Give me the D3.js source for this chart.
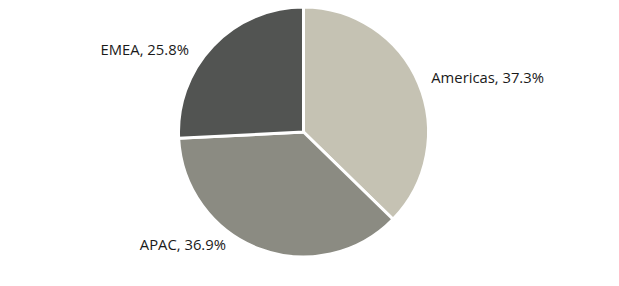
<!DOCTYPE html>
<html>
  <head>
    <meta charset="utf-8">
    <script src="https://d3js.org/d3.v7.min.js"></script>
    <style>
      body { margin: 0px; background: #fff; }
      .label {
        fill: #1a1a1a;
        font-size: 14.8px;
        font-family: 'Open Sans', sans-serif;
      }
    </style>
  </head>
  <body>
    <svg width="619" height="286"></svg>
    <script>
      const regions = ['Americas', 'APAC', 'EMEA'];
      const shares = [37.3, 36.9, 25.8];
      const colors = ['#c5c2b3', '#8b8b82', '#525452'];

      // small tweaks to put the labels where the original has them
      const nudge = [[-4, 1], [-27, -21], [-11, 16]];

      const svg = d3.select('svg');
      const cx = 303.5, cy = 132, radius = 125;

      const g = svg.append('g')
          .attr('transform', `translate(${cx},${cy})`);

      const data = regions.map((r, i) => ({ name: r, value: shares[i], i: i }));

      const pie = d3.pie()
        .sort(null)
        .value(d => d.value);

      const arc = d3.arc()
        .innerRadius(0)
        .outerRadius(radius);

      const labelArc = d3.arc()
        .innerRadius(143)
        .outerRadius(143);

      const arcs = pie(data);

      g.selectAll('path').data(arcs)
        .enter()
        .append('path')
          .attr('d', arc)
          .attr('fill', d => colors[d.data.i])
          .attr('stroke', '#fff')
          .attr('stroke-width', 3)
          .attr('stroke-linejoin', 'miter');

      g.selectAll('text').data(arcs)
        .enter()
        .append('text')
          .attr('class', 'label')
          .attr('x', d => labelArc.centroid(d)[0] + nudge[d.data.i][0])
          .attr('y', d => labelArc.centroid(d)[1] + nudge[d.data.i][1])
          .attr('dy', '0.35em')
          .style('text-anchor', d => (d.startAngle + d.endAngle) / 2 < Math.PI ? 'start' : 'end')
          .text(d => `${d.data.name}, ${d.data.value.toFixed(1)}%`);
    </script>
  </body>
</html>
